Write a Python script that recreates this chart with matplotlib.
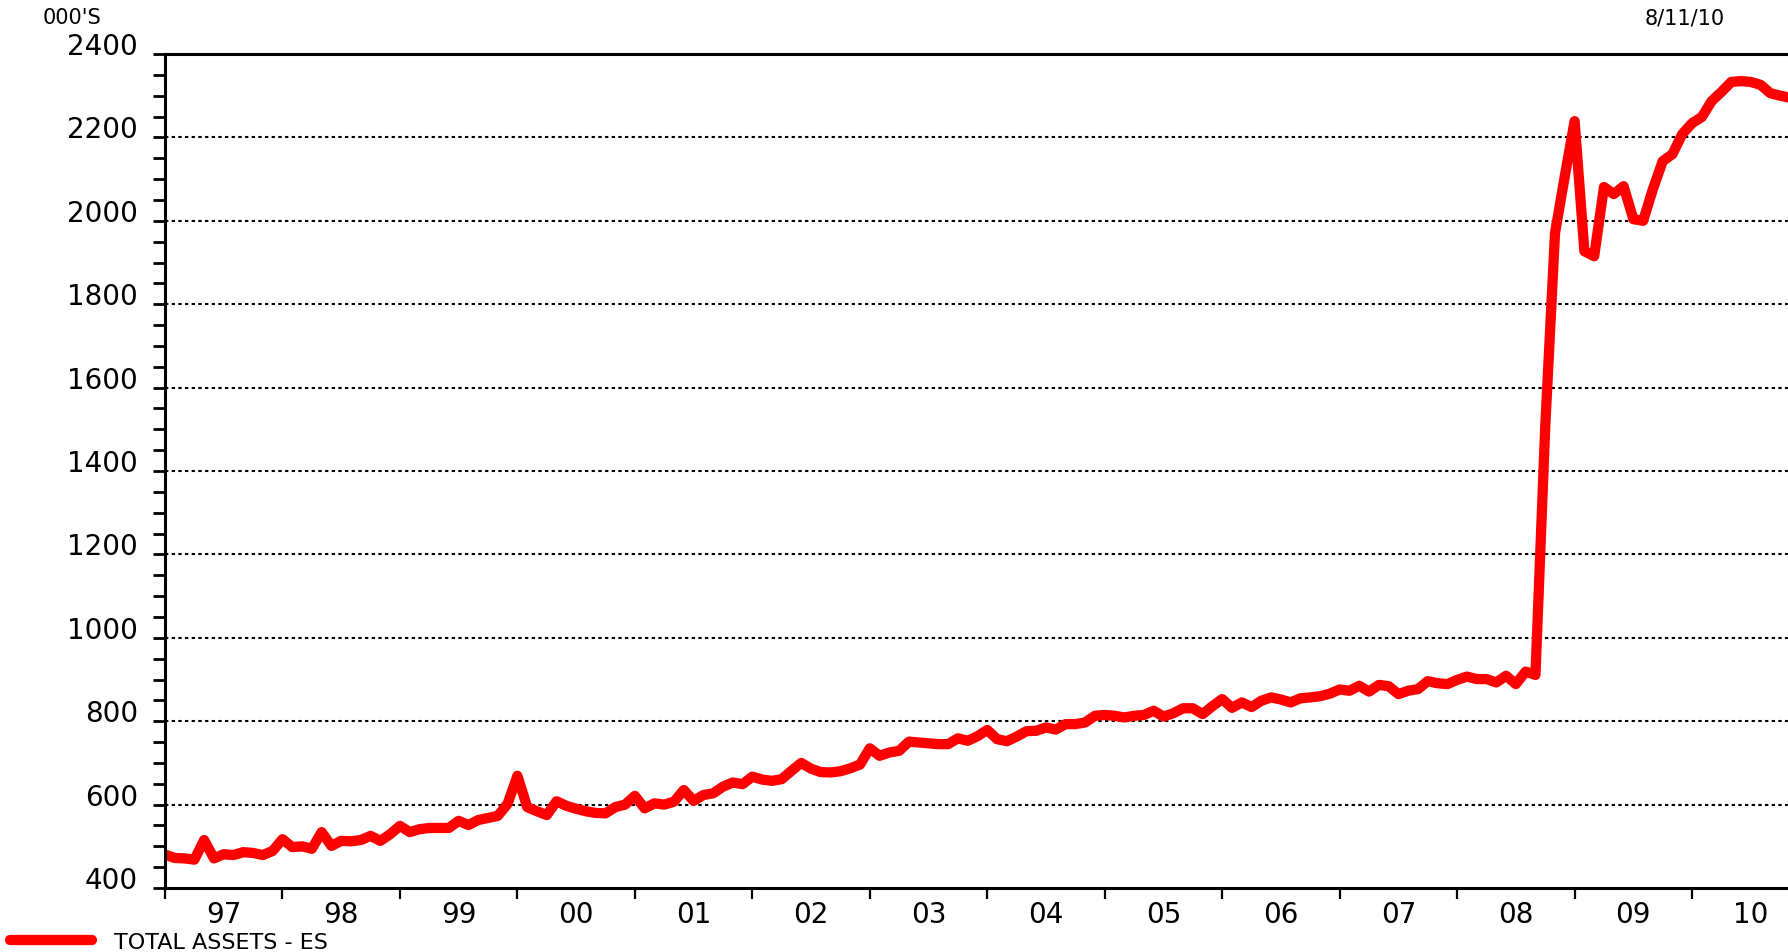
import numpy as np
import matplotlib
matplotlib.use("Agg")
import matplotlib.pyplot as plt
from matplotlib.ticker import MultipleLocator, FixedLocator

# monthly total assets, Jan 1997 onwards (000's)
assets = [
    480, 472, 471, 468, 515, 471, 481, 479, 486, 484, 479, 489,          # 1997
    517, 498, 500, 494, 534, 501, 513, 512, 515, 525, 513, 529,          # 1998
    549, 534, 541, 544, 544, 544, 561, 551, 563, 568, 573, 602,          # 1999
    669, 594, 584, 575, 608, 597, 590, 584, 580, 579, 594, 600,          # 2000
    621, 591, 603, 600, 607, 635, 609, 623, 627, 643, 653, 649,          # 2001
    667, 660, 657, 661, 681, 700, 686, 678, 677, 680, 687, 696,          # 2002
    735, 717, 725, 729, 751, 749, 747, 745, 745, 759, 753, 764,          # 2003
    779, 757, 752, 763, 776, 777, 785, 780, 793, 793, 797, 813,          # 2004
    815, 813, 809, 813, 815, 825, 811, 819, 831, 831, 817, 836,          # 2005
    853, 832, 845, 834, 849, 857, 852, 845, 855, 857, 860, 866,          # 2006
    876, 873, 885, 871, 887, 884, 865, 873, 877, 896, 891, 889,          # 2007
    899, 907, 901, 901, 893, 909, 889, 919, 911, 1506, 1971, 2107,       # 2008
    2239, 1927, 1915, 2081, 2064, 2083, 2004, 2000, 2076, 2143, 2160, 2208,  # 2009
    2234, 2249, 2287, 2309, 2333, 2335, 2333, 2326, 2306, 2300, 2295,    # 2010
]
start_year = 1997
year_labels = ["97", "98", "99", "00", "01", "02", "03", "04", "05", "06",
               "07", "08", "09", "10"]
series_name = "TOTAL ASSETS - ES"
units_label = "000'S"
date_label = "8/11/10"

x = start_year + np.arange(len(assets)) / 12.0

fig = plt.figure(figsize=(17.88, 9.53), dpi=100)
W, H = 1788, 953
ax = fig.add_axes([165 / W, (H - 889) / H, (W - 165) / W, 834 / H])

line, = ax.plot(x, assets, color="#ff0000", lw=7.4,
                solid_joinstyle="round", solid_capstyle="round",
                label=series_name)

ax.set_xlim(start_year, start_year + 165.8 / 12)
ax.set_ylim(400, 2400)

# y axis: labelled every 200, small ticks every 50
ax.yaxis.set_major_locator(MultipleLocator(200))
ax.yaxis.set_minor_locator(MultipleLocator(50))
ax.tick_params(axis="y", which="both", direction="out", length=8.5,
               width=2.0, pad=11, labelsize=20)
for t in ax.yaxis.get_major_ticks():
    t.label1.set_verticalalignment("baseline")

# x axis: ticks at year boundaries, labels mid-year
years = np.arange(start_year, start_year + len(year_labels))
ax.xaxis.set_major_locator(FixedLocator(years))
ax.xaxis.set_minor_locator(FixedLocator(years + 0.5))
ax.xaxis.set_minor_formatter(plt.FixedFormatter(year_labels))
ax.tick_params(axis="x", which="major", direction="out", length=8,
               width=1.6, labelbottom=False)
ax.tick_params(axis="x", which="minor", length=0, pad=9, labelsize=20)

for t in ax.get_yticks():
    if 400 < t < 2400:
        ax.axhline(t, color="black", lw=1.5, ls=(0, (1.6, 1.6)), zorder=1)

for s in ["left", "bottom", "top"]:
    ax.spines[s].set_linewidth(2.2)
ax.spines["right"].set_visible(False)

fig.text(43 / W, 1 - 18 / H, units_label, fontsize=15, ha="left", va="center")
fig.text(1685 / W, 1 - 19 / H, date_label, fontsize=15, ha="center", va="center")

fig.legend(handles=[line], loc="center left",
           bbox_to_anchor=(10 / W, 1 - 943 / H), frameon=False,
           fontsize=16, handlelength=3.7, handletextpad=1.0,
           borderaxespad=0, borderpad=0)

fig.savefig("out.png", dpi=100)
